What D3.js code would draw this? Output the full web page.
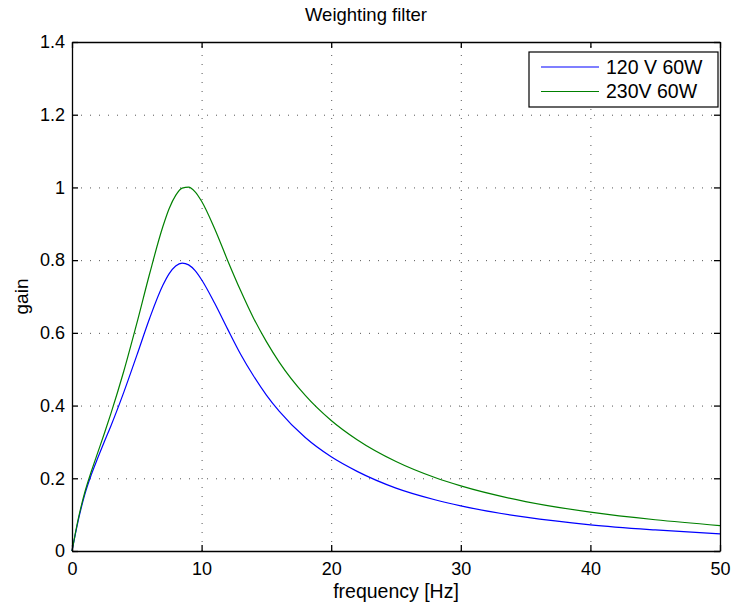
<!DOCTYPE html>
<html>
<head>
<meta charset="utf-8">
<script src="https://cdn.jsdelivr.net/npm/d3@7"></script>
<style>
  body { margin: 0; background: #fff; }
  text { font-family: "Liberation Sans", Arial, sans-serif; }
</style>
</head>
<body>
<div id="my_dataviz"></div>
<script>
// data
var freq = [0, 0.25, 0.5, 0.75, 1, 1.5, 2, 2.5, 3, 4, 5, 6, 7, 7.5, 8, 8.5, 9, 9.5, 10, 11, 12, 13, 14, 15, 16, 18, 20, 22, 25, 28, 30, 35, 40, 45, 50]
var gain120 = [0, 0.045, 0.087, 0.124, 0.157, 0.211, 0.257, 0.301, 0.344, 0.437, 0.538, 0.641, 0.730, 0.763, 0.784, 0.792, 0.787, 0.771, 0.746, 0.682, 0.611, 0.542, 0.482, 0.429, 0.384, 0.312, 0.259, 0.219, 0.173, 0.141, 0.124, 0.093, 0.072, 0.058, 0.047]
var gain230 = [0, 0.047, 0.091, 0.129, 0.163, 0.220, 0.272, 0.324, 0.378, 0.495, 0.626, 0.764, 0.891, 0.942, 0.978, 0.998, 1.001, 0.988, 0.962, 0.887, 0.800, 0.717, 0.641, 0.576, 0.519, 0.428, 0.359, 0.306, 0.246, 0.202, 0.179, 0.136, 0.107, 0.086, 0.070]
var seriesNames = ["120 V 60W", "230V 60W"]
var seriesColors = ["#0000ff", "#008000"]
var xTicks = [0, 10, 20, 30, 40, 50]
var yTicks = [0, 0.2, 0.4, 0.6, 0.8, 1, 1.2, 1.4]

// dimensions
var W = 732, H = 608
var margin = { top: 42, right: 12, bottom: 57, left: 72 }
var width = W - margin.left - margin.right
var height = H - margin.top - margin.bottom

var svg = d3.select("#my_dataviz")
    .append("svg")
    .attr("width", W)
    .attr("height", H)

var g = svg.append("g").attr("transform", "translate(" + margin.left + "," + margin.top + ")")

var x = d3.scaleLinear().domain([0, 50]).range([0, width])
var y = d3.scaleLinear().domain([0, 1.4]).range([height, 0])

// dotted grid
g.append("g")
    .attr("class", "grid")
    .attr("transform", "translate(0," + height + ")")
    .call(d3.axisBottom(x).tickValues(xTicks).tickSize(-height).tickFormat(""))
g.append("g")
    .attr("class", "grid")
    .call(d3.axisLeft(y).tickValues(yTicks).tickSize(-width).tickFormat(""))
g.selectAll(".grid .domain").remove()

// the curves
var series = [gain120, gain230]
var line = d3.line()
    .x(function(d, i) { return x(freq[i]) })
    .y(function(d) { return y(d) })
    .curve(d3.curveMonotoneX)

g.selectAll(".curve")
    .data(series)
    .enter()
    .append("path")
    .attr("class", "curve")
    .attr("d", line)
    .style("fill", "none")
    .style("stroke", function(d, i) { return seriesColors[i] })
    .style("stroke-width", 1.2)

// axes, ticks pointing inward like matlab
var fs = "18px"
g.append("g")
    .attr("transform", "translate(0," + height + ")")
    .call(d3.axisBottom(x).tickValues(xTicks).tickSizeInner(-6).tickSizeOuter(0).tickPadding(11))
g.append("g")
    .call(d3.axisLeft(y).tickValues(yTicks).tickSizeInner(-6).tickSizeOuter(0).tickPadding(7).tickFormat(d3.format("~g")))
g.append("g")
    .call(d3.axisTop(x).tickValues(xTicks).tickSizeInner(-6).tickSizeOuter(0).tickFormat(""))
g.append("g")
    .attr("transform", "translate(" + width + ",0)")
    .call(d3.axisRight(y).tickValues(yTicks).tickSizeInner(-6).tickSizeOuter(0).tickFormat(""))

g.selectAll(".domain, .tick line").style("stroke", "#000").style("stroke-width", 1.3)
g.selectAll(".grid line")
    .style("stroke", "#555")
    .style("stroke-width", 1)
    .style("stroke-dasharray", "1,8")
g.selectAll(".tick text").style("font-size", fs).style("fill", "#000").style("font-family", "Liberation Sans, Arial, sans-serif")

// labels
svg.append("text")
    .attr("x", 366).attr("y", 21)
    .attr("text-anchor", "middle")
    .style("font-size", "18.5px")
    .text("Weighting filter")
svg.append("text")
    .attr("x", margin.left + width / 2).attr("y", 598)
    .attr("text-anchor", "middle")
    .style("font-size", "19.5px")
    .text("frequency [Hz]")
svg.append("text")
    .attr("transform", "translate(28," + (margin.top + height / 2) + ") rotate(-90)")
    .attr("text-anchor", "middle")
    .style("font-size", "19px")
    .text("gain")

// legend
var legend = svg.append("g").attr("transform", "translate(529,52)")
legend.append("rect")
    .attr("width", 189).attr("height", 55)
    .style("fill", "#fff")
    .style("stroke", "#000")
    .style("stroke-width", 1.2)
seriesNames.forEach(function(name, i) {
    var ly = 15 + i * 24.5
    legend.append("line")
        .attr("x1", 12).attr("x2", 70)
        .attr("y1", ly).attr("y2", ly)
        .style("stroke", seriesColors[i])
        .style("stroke-width", 1.2)
    legend.append("text")
        .attr("x", 77).attr("y", ly)
        .attr("dy", "0.35em")
        .style("font-size", "19.5px")
        .text(name)
})
</script>
</body>
</html>
